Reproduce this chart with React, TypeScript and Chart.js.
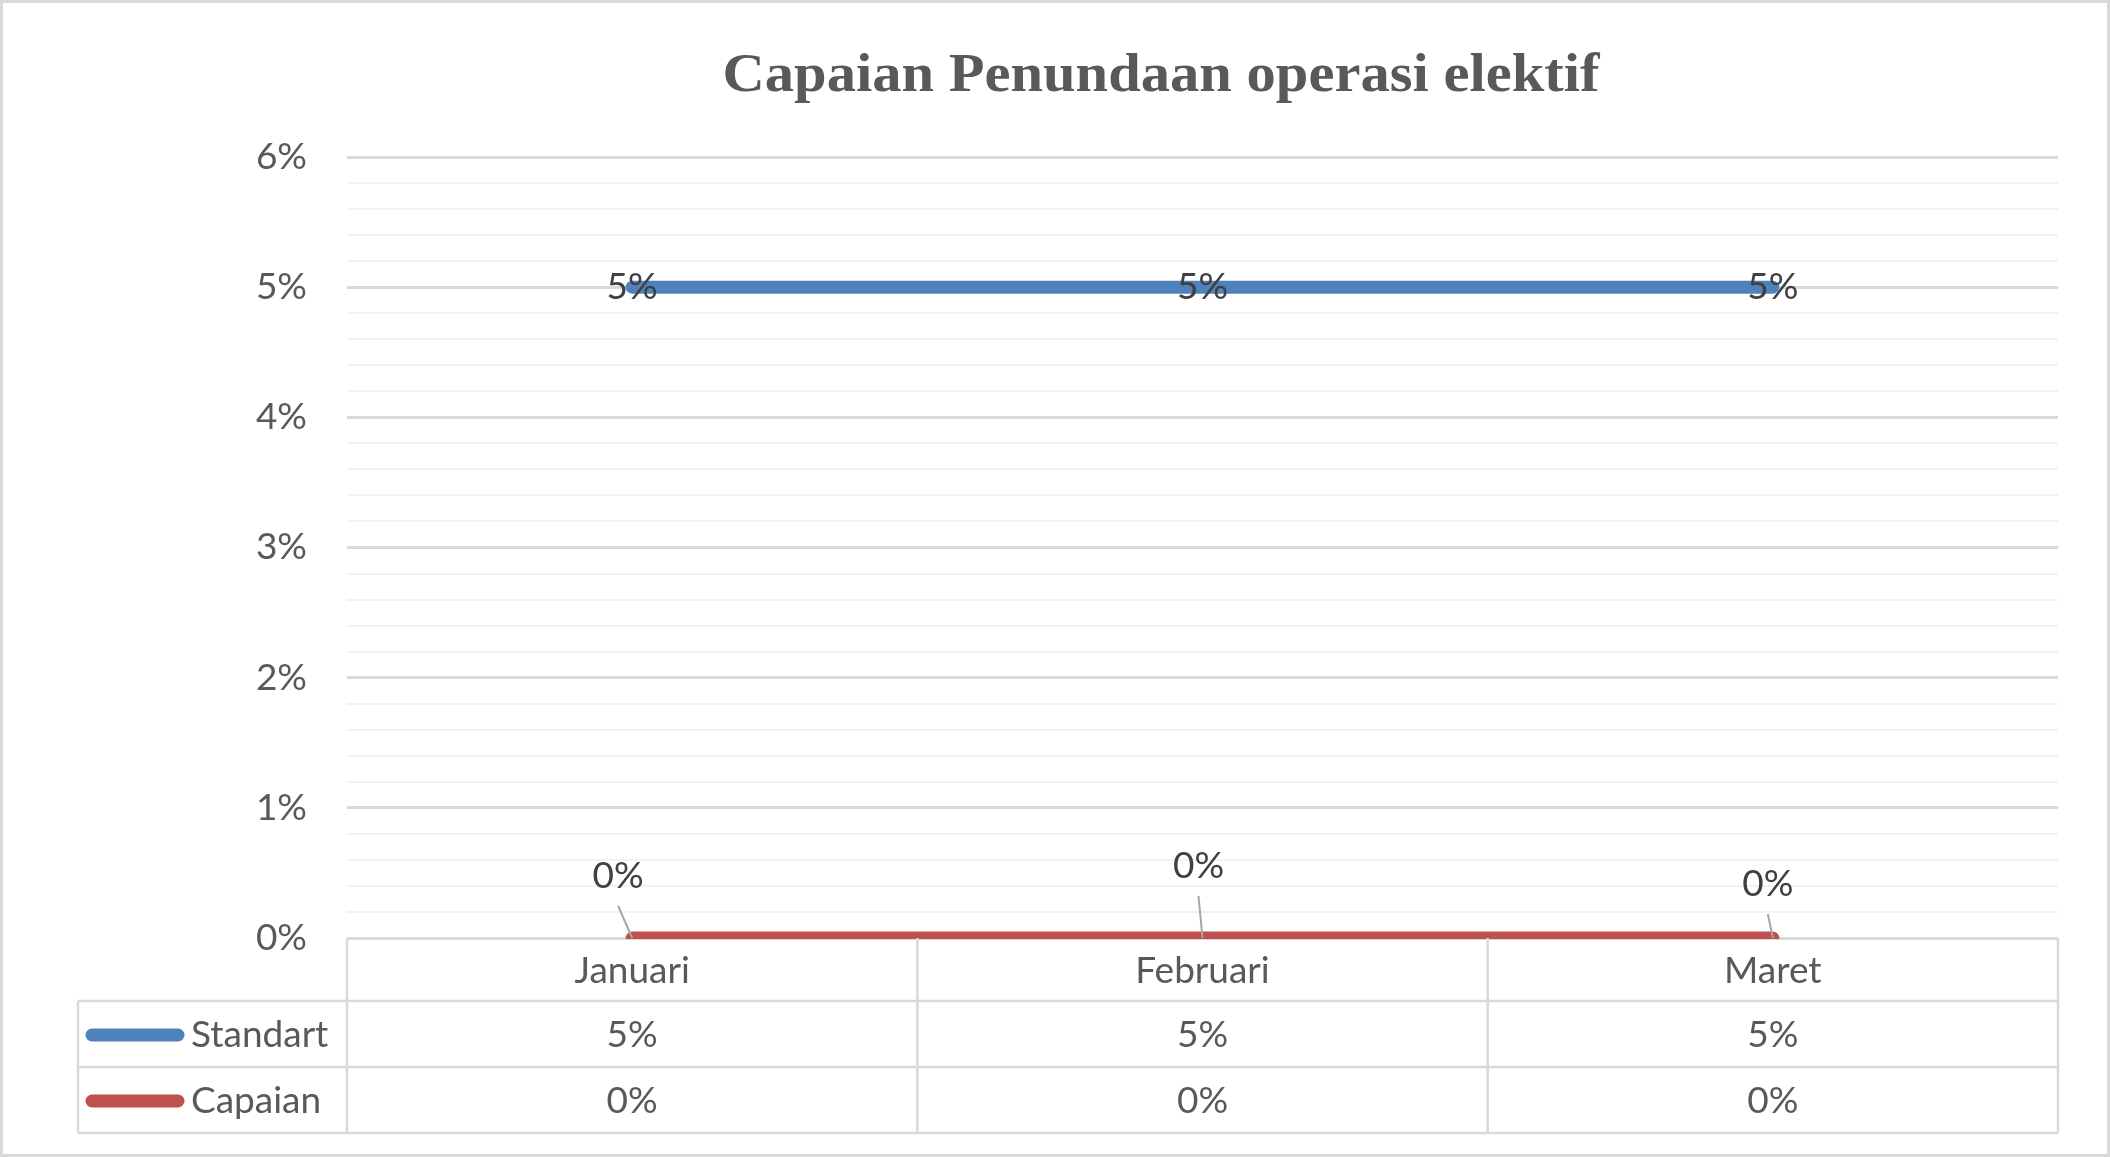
import React, { useEffect, useRef } from 'react';
import { Chart, registerables } from 'chart.js';

Chart.register(...registerables);

const TITLE = 'Capaian Penundaan operasi elektif';
const CATEGORIES = ['Januari', 'Februari', 'Maret'];
const STANDART = [5, 5, 5];
const CAPAIAN = [0, 0, 0];
const SERIES_NAMES = ['Standart', 'Capaian'];
const SERIES_COLORS = ['#4F81BD', '#C0504D'];
const Y_MIN = 0;
const Y_MAX = 6;
const Y_MINOR_STEP = 0.2;

const isMajor = (v: number) => Math.abs(v - Math.round(v)) < 1e-6;
const pct = (v: number) => `${Math.round(v)}%`;

const FONT = 'Lato';
const TEXT = '#595959';
const LABEL = '#404040';
const GRID_MAJOR = '#D9D9D9';
const GRID_MINOR = '#F2F2F2';

const tablePlugin = {
  id: 'excelTable',
  afterDraw(chart: any, _args: any, opts: any) {
    const ctx = chart.ctx;
    const area = chart.chartArea;
    const xs = chart.scales.x;
    const W = chart.width;
    const H = chart.height;
    ctx.save();

    // outer border
    ctx.strokeStyle = GRID_MAJOR;
    ctx.lineWidth = 3;
    ctx.strokeRect(1.5, 1.5, W - 3, H - 3);

    // title
    ctx.save();
    ctx.fillStyle = TEXT;
    ctx.font = `bold 55px "Liberation Serif", serif`;
    ctx.textAlign = 'center';
    ctx.textBaseline = 'middle';
    const tw = ctx.measureText(TITLE).width;
    const sx = 877 / tw;
    ctx.translate(1161, 77);
    ctx.scale(sx, 1);
    ctx.fillText(TITLE, 0, 0);
    ctx.restore();

    // table grid
    const top = area.bottom;
    const r1 = top + 63;
    const r2 = r1 + 66;
    const r3 = r2 + 66;
    const tLeft = 78;
    const n = CATEGORIES.length;
    const bounds: number[] = [area.left];
    for (let i = 0; i < n - 1; i++) {
      bounds.push((xs.getPixelForValue(i) + xs.getPixelForValue(i + 1)) / 2);
    }
    bounds.push(area.right);
    ctx.strokeStyle = GRID_MAJOR;
    ctx.lineWidth = 2.5;
    ctx.beginPath();
    bounds.forEach((bx) => {
      ctx.moveTo(bx, top);
      ctx.lineTo(bx, r3);
    });
    ctx.moveTo(tLeft, r1);
    ctx.lineTo(tLeft, r3);
    [r1, r2, r3].forEach((ry) => {
      ctx.moveTo(tLeft, ry);
      ctx.lineTo(area.right, ry);
    });
    ctx.stroke();

    // legend keys + values
    const rows = [STANDART, CAPAIAN];
    const rowCenters = [(r1 + r2) / 2 + 1, (r2 + r3) / 2 + 1];
    rows.forEach((vals, ri) => {
      const cy = rowCenters[ri];
      ctx.strokeStyle = SERIES_COLORS[ri];
      ctx.lineWidth = 13;
      ctx.lineCap = 'round';
      ctx.beginPath();
      ctx.moveTo(92, cy);
      ctx.lineTo(178, cy);
      ctx.stroke();
      ctx.fillStyle = TEXT;
      ctx.font = `37px ${FONT}`;
      ctx.textAlign = 'left';
      ctx.textBaseline = 'middle';
      ctx.fillText(SERIES_NAMES[ri], 191, cy);
      ctx.textAlign = 'center';
      vals.forEach((v, i) => {
        ctx.fillText(pct(v), xs.getPixelForValue(i), cy);
      });
    });

    // data labels
    ctx.font = `37px ${FONT}`;
    ctx.fillStyle = LABEL;
    ctx.textAlign = 'center';
    ctx.textBaseline = 'middle';
    const m0 = chart.getDatasetMeta(0);
    m0.data.forEach((pt: any, i: number) => {
      ctx.fillText(pct(STANDART[i]), pt.x, pt.y);
    });
    const m1 = chart.getDatasetMeta(1);
    const offs = opts.capaianOffsets;
    m1.data.forEach((pt: any, i: number) => {
      const [dx, dy] = offs[i];
      const lx = pt.x + dx;
      const ly = pt.y + dy;
      ctx.strokeStyle = '#A6A6A6';
      ctx.lineWidth = 2;
      ctx.lineCap = 'butt';
      ctx.beginPath();
      ctx.moveTo(lx, ly + 30);
      ctx.lineTo(pt.x, pt.y);
      ctx.stroke();
      ctx.fillStyle = LABEL;
      ctx.fillText(pct(CAPAIAN[i]), lx, ly);
    });

    ctx.restore();
  },
};

export default function App() {
  const ref = useRef<HTMLCanvasElement | null>(null);

  useEffect(() => {
    document.body.style.margin = '0';
    document.body.style.overflow = 'hidden';
    Chart.defaults.font.family = FONT;
    const canvas = ref.current!;
    const chart = new Chart(canvas, {
      type: 'line',
      data: {
        labels: CATEGORIES,
        datasets: [
          {
            label: SERIES_NAMES[0],
            data: STANDART,
            borderColor: SERIES_COLORS[0],
            backgroundColor: SERIES_COLORS[0],
            borderWidth: 13,
            borderCapStyle: 'round',
            pointRadius: 0,
            tension: 0,
            clip: false as any,
          },
          {
            label: SERIES_NAMES[1],
            data: CAPAIAN,
            borderColor: SERIES_COLORS[1],
            backgroundColor: SERIES_COLORS[1],
            borderWidth: 13,
            borderCapStyle: 'round',
            pointRadius: 0,
            tension: 0,
            clip: { left: false, right: false, top: false, bottom: 1 } as any,
          },
        ],
      },
      options: {
        animation: false,
        responsive: false,
        maintainAspectRatio: false,
        layout: { padding: { left: 78, right: 52, top: 157, bottom: 0 } },
        plugins: {
          legend: { display: false },
          title: { display: false },
          tooltip: { enabled: false },
          excelTable: { capaianOffsets: [[-14, -62], [-4, -72], [-5, -54]] },
        } as any,
        scales: {
          x: {
            offset: true,
            grid: { display: false },
            border: { display: false },
            ticks: { font: { size: 37 }, color: TEXT, padding: 3 },
            afterFit: (s: any) => {
              s.height = 219;
            },
          },
          y: {
            min: Y_MIN,
            max: Y_MAX,
            border: { display: false },
            afterFit: (s: any) => {
              s.width = 269;
            },
            grid: {
              drawTicks: false,
              color: (c: any) => (isMajor(c.tick.value) ? GRID_MAJOR : GRID_MINOR),
              lineWidth: (c: any) => (isMajor(c.tick.value) ? 3 : 2),
            },
            ticks: {
              stepSize: Y_MINOR_STEP,
              autoSkip: false,
              padding: 40,
              font: { size: 37 },
              color: TEXT,
              callback: (v: any) => (isMajor(Number(v)) ? pct(Number(v)) : ''),
            },
          },
        },
      },
      plugins: [tablePlugin],
    });
    return () => chart.destroy();
  }, []);

  return <canvas ref={ref} width={2110} height={1157} style={{ display: 'block' }} />;
}
